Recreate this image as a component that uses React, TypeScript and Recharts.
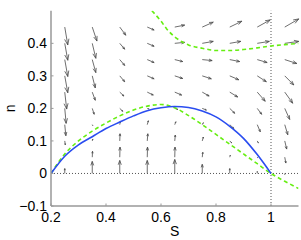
import React from 'react';
import { ComposedChart, Line, XAxis, YAxis, ReferenceLine } from 'recharts';

// axis ticks
const xTicks = [0.2, 0.4, 0.6, 0.8, 1];
const yTicks = [-0.1, 0, 0.1, 0.2, 0.3, 0.4];

// blue solid curve
const blueS = [0.2, 0.25, 0.3, 0.35, 0.4, 0.45, 0.5, 0.55, 0.6, 0.65, 0.7, 0.75, 0.8, 0.85, 0.9, 0.95, 1.0];
const blueN = [0, 0.053, 0.088, 0.113, 0.138, 0.158, 0.177, 0.193, 0.202, 0.206, 0.203, 0.192, 0.174, 0.145, 0.108, 0.058, 0];

// green dashed lower curve
const greenLowS = [0.2, 0.25, 0.3, 0.35, 0.4, 0.45, 0.5, 0.55, 0.6, 0.65, 0.7, 0.75, 0.8, 0.85, 0.9, 0.95, 1.0, 1.05, 1.1];
const greenLowN = [0, 0.06, 0.1, 0.13, 0.155, 0.177, 0.195, 0.207, 0.212, 0.202, 0.178, 0.15, 0.12, 0.09, 0.06, 0.03, 0, -0.024, -0.046];

// green dashed upper curve
const greenUpS = [0.567, 0.6, 0.62, 0.65, 0.68, 0.7, 0.75, 0.8, 0.85, 0.9, 0.95, 1.0, 1.05, 1.1];
const greenUpN = [0.5, 0.468, 0.445, 0.42, 0.403, 0.395, 0.385, 0.378, 0.378, 0.381, 0.386, 0.392, 0.396, 0.4];

// vector field grid
const gridS = [0.25, 0.35, 0.45, 0.55, 0.65, 0.75, 0.85, 0.95, 1.05];
const gridN = [0.45, 0.4, 0.35, 0.3, 0.25, 0.2, 0.15, 0.1, 0.05, 0];
const arrowDS = [
  [0.011, 0.017, 0.022, 0.025, 0.036, 0.04, 0.044, 0.047, 0.051],
  [0.011, 0.013, 0.018, 0.025, 0.036, 0.04, 0.04, 0.044, 0.051],
  [0.011, 0.013, 0.018, 0.025, 0.029, 0.036, 0.036, 0.036, 0.044],
  [0.011, 0.011, 0.018, 0.025, 0.029, 0.033, 0.033, 0.033, 0.033],
  [0.007, 0.011, 0.015, 0.022, 0.025, 0.025, 0.029, 0.029, 0.029],
  [0.005, 0.007, 0.011, 0.007, 0.011, 0.015, 0.018, 0.016, 0.018],
  [0.004, 0.002, 0.002, 0.004, 0.004, 0.004, 0.015, 0.011, 0.011],
  [0.002, 0.002, 0.001, 0.002, 0.002, 0.004, 0.007, 0.004, 0.007],
  [0.001, 0.001, 0.001, 0.001, 0.001, 0.002, 0.002, 0.002, 0.004],
  [0, 0, 0, 0, 0, 0, 0, 0, 0],
];
const arrowDN = [
  [-0.055, -0.043, -0.025, -0.009, 0.006, 0.015, 0.018, 0.022, 0.025],
  [-0.052, -0.046, -0.018, -0.009, 0.003, 0.006, 0.006, 0.006, 0.006],
  [-0.052, -0.04, -0.018, -0.009, -0.006, -0.003, -0.006, -0.009, -0.012],
  [-0.052, -0.037, -0.018, -0.009, -0.008, -0.009, -0.012, -0.018, -0.028],
  [-0.052, -0.025, -0.012, -0.009, -0.009, -0.012, -0.015, -0.028, -0.034],
  [-0.046, -0.018, -0.009, -0.002, -0.003, -0.005, -0.015, -0.018, -0.034],
  [-0.034, -0.003, 0.009, 0.012, 0.009, 0.006, -0.012, -0.022, -0.031],
  [-0.012, 0.006, 0.022, 0.022, 0.018, 0.012, -0.006, -0.006, -0.025],
  [0, 0.018, 0.031, 0.031, 0.031, 0.015, 0.006, -0.002, -0.018],
  [0.015, 0.037, 0.04, 0.04, 0.043, 0.028, 0.015, 0.006, -0.003],
];

const zip = (xs: number[], ys: number[]) => xs.map((S, i) => ({ S, n: ys[i] }));
const blueData = zip(blueS, blueN);
const greenLowData = zip(greenLowS, greenLowN);
const greenUpData = zip(greenUpS, greenUpN);

const arrows: { s: number; n: number; ds: number; dn: number }[] = [];
gridN.forEach((n, r) => {
  gridS.forEach((s, c) => {
    arrows.push({ s, n, ds: arrowDS[r][c], dn: arrowDN[r][c] });
  });
});

const FRAME = '#999999';
const FONT = 'Liberation Sans, Arial, Helvetica, sans-serif';

const fmt = (v: number) => {
  const r = Math.round(v * 10) / 10;
  if (r < 0) return '\u2212' + String(-r);
  return String(r);
};

const ArrowShape = (props: any) => {
  const { x1, y1, x2, y2 } = props;
  const dx = x2 - x1;
  const dy = y2 - y1;
  const L = Math.sqrt(dx * dx + dy * dy);
  if (L < 0.3) return <g />;
  const ux = dx / L;
  const uy = dy / L;
  const hl = 0.33 * L;
  const hw = 0.12 * L;
  const bx = x2 - ux * hl;
  const by = y2 - uy * hl;
  const p1x = bx - uy * hw;
  const p1y = by + ux * hw;
  const p2x = bx + uy * hw;
  const p2y = by - ux * hw;
  return (
    <path
      d={`M${x1},${y1}L${x2},${y2}M${p1x},${p1y}L${x2},${y2}L${p2x},${p2y}`}
      stroke="#4a4a4a"
      strokeWidth={0.8}
      fill="none"
    />
  );
};

const BottomTick = (props: any) => {
  const { x, y, payload } = props;
  return (
    <g>
      <line x1={x} x2={x} y1={y} y2={y - 2.5} stroke={FRAME} strokeWidth={1} />
      <text x={x} y={y + 15.7} textAnchor="middle" fontSize={14} fontFamily={FONT} fill="#000">
        {fmt(payload.value)}
      </text>
    </g>
  );
};
const TopTick = (props: any) => {
  const { x, y } = props;
  return <line x1={x} x2={x} y1={y} y2={y + 2.5} stroke={FRAME} strokeWidth={1} />;
};
const LeftTick = (props: any) => {
  const { x, y, payload } = props;
  return (
    <g>
      <line x1={x} x2={x + 2.5} y1={y} y2={y} stroke={FRAME} strokeWidth={1} />
      <text x={x - 4} y={y + 5} textAnchor="end" fontSize={14} fontFamily={FONT} fill="#000">
        {fmt(payload.value)}
      </text>
    </g>
  );
};
const RightTick = (props: any) => {
  const { x, y } = props;
  return <line x1={x} x2={x - 2.5} y1={y} y2={y} stroke={FRAME} strokeWidth={1} />;
};

const YLabel = (props: any) => {
  const vb = props.viewBox || { x: 0, y: 0, height: 0 };
  const cx = vb.x + 15;
  const cy = vb.y + vb.height / 2;
  return (
    <text
      x={cx}
      y={cy}
      transform={`rotate(-90, ${cx}, ${cy})`}
      textAnchor="middle"
      fontSize={14}
      fontFamily={FONT}
      fill="#000"
    >
      n
    </text>
  );
};

export default function App() {
  return (
    <div style={{ position: 'absolute', left: 0, top: 0, width: 301, height: 240, background: '#fff' }}>
      <ComposedChart width={301} height={240} margin={{ top: 10.8, right: 2.5, left: 0, bottom: 0 }}>
        <XAxis
          type="number"
          dataKey="S"
          domain={[0.2, 1.1]}
          ticks={xTicks}
          interval={0}
          allowDataOverflow
          height={34}
          tickSize={0}
          tickMargin={0}
          tick={<BottomTick />}
          axisLine={{ stroke: FRAME, strokeWidth: 1.5 }}
          tickLine={false}
          label={{ value: 'S', position: 'insideBottom', offset: 4, fontSize: 14, fontFamily: FONT, fill: '#000' }}
        />
        <XAxis
          xAxisId="top"
          orientation="top"
          type="number"
          dataKey="S"
          domain={[0.2, 1.1]}
          ticks={xTicks}
          interval={0}
          height={0}
          tickSize={0}
          tickMargin={0}
          tick={<TopTick />}
          axisLine={{ stroke: FRAME, strokeWidth: 1.5 }}
          tickLine={false}
        />
        <YAxis
          type="number"
          domain={[-0.1, 0.5]}
          ticks={yTicks}
          interval={0}
          allowDataOverflow
          width={51}
          tickSize={0}
          tickMargin={0}
          tick={<LeftTick />}
          axisLine={{ stroke: FRAME, strokeWidth: 1.5 }}
          tickLine={false}
          label={<YLabel />}
        />
        <YAxis
          yAxisId="right"
          orientation="right"
          type="number"
          domain={[-0.1, 0.5]}
          ticks={yTicks}
          interval={0}
          width={0}
          tickSize={0}
          tickMargin={0}
          tick={<RightTick />}
          axisLine={{ stroke: FRAME, strokeWidth: 1.5 }}
          tickLine={false}
        />
        <ReferenceLine y={0} stroke="#555" strokeWidth={1} strokeDasharray="1 2" ifOverflow="visible" />
        <ReferenceLine x={1} stroke="#555" strokeWidth={1} strokeDasharray="1 2" ifOverflow="visible" />
        {arrows.map((a, i) => (
          <ReferenceLine
            key={'a' + i}
            segment={[
              { x: a.s, y: a.n },
              { x: a.s + a.ds, y: a.n + a.dn },
            ]}
            ifOverflow="visible"
            shape={ArrowShape}
          />
        ))}
        <Line
          data={greenLowData}
          dataKey="n"
          type="monotone"
          stroke="#66ee11"
          strokeWidth={1.6}
          strokeDasharray="4 3"
          dot={false}
          isAnimationActive={false}
        />
        <Line
          data={greenUpData}
          dataKey="n"
          type="monotone"
          stroke="#66ee11"
          strokeWidth={1.6}
          strokeDasharray="4 3"
          dot={false}
          isAnimationActive={false}
        />
        <Line
          data={blueData}
          dataKey="n"
          type="monotone"
          stroke="#2a4df0"
          strokeWidth={1.6}
          dot={false}
          isAnimationActive={false}
        />
      </ComposedChart>
    </div>
  );
}
